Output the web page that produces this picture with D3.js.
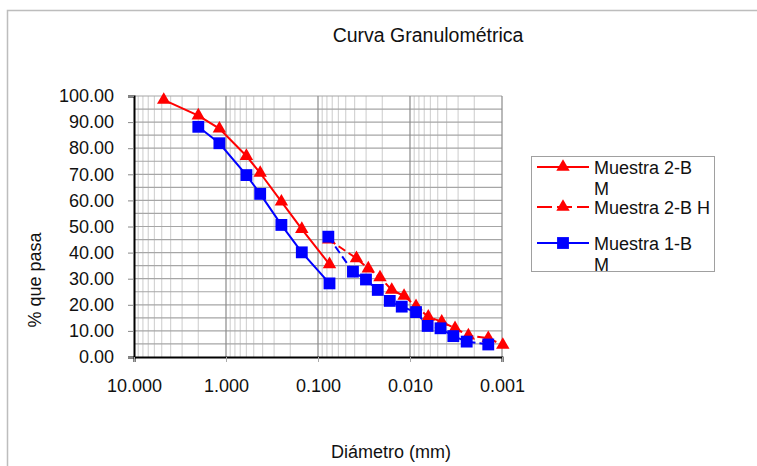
<!DOCTYPE html>
<html>
<head>
<meta charset="utf-8">
<script src="https://cdn.jsdelivr.net/npm/d3@7"></script>
<style>
  body { margin: 0; background: #fff; }
  svg { display: block; font-family: "Liberation Sans", Arial, sans-serif; }
</style>
</head>
<body>
<div id="chart"></div>
<script>
// sieve part, Muestra 2-B M
const m2Diam = [4.75, 2.0, 1.18, 0.6, 0.425, 0.25, 0.15, 0.075];
const m2Pasa = [98.5, 92.5, 87.5, 77.0, 70.5, 59.5, 49.0, 35.5];
// hydrometer part, Muestra 2-B H
const h2Diam = [0.0765, 0.0382, 0.0284, 0.0212, 0.0158, 0.0116, 0.0086, 0.00633, 0.00452, 0.00324, 0.00232, 0.00141, 0.00098];
const h2Pasa = [45.0, 37.8, 33.9, 30.5, 25.7, 23.4, 19.4, 15.4, 13.5, 11.0, 8.2, 7.2, 4.6];
// Muestra 1-B M
const m1Diam = [2.0, 1.18, 0.6, 0.425, 0.25, 0.15, 0.075];
const m1Pasa = [88.2, 81.9, 69.7, 62.5, 50.6, 40.1, 28.2];
// Muestra 1-B hydrometer (not in legend)
const h1Diam = [0.0772, 0.0417, 0.0301, 0.0224, 0.0166, 0.0123, 0.0086, 0.00643, 0.00466, 0.00338, 0.00242, 0.00141];
const h1Pasa = [46.1, 32.7, 29.7, 25.7, 21.5, 19.3, 17.2, 11.9, 11.0, 8.0, 5.9, 4.8];

const xTicks = [10, 1, 0.1, 0.01, 0.001];
const yTicks = [0, 10, 20, 30, 40, 50, 60, 70, 80, 90, 100];
const legendNames = [["Muestra 2-B", "M"], ["Muestra 2-B H"], ["Muestra 1-B", "M"]];

const width = 757, height = 466;
const svg = d3.select("#chart").append("svg").attr("width", width).attr("height", height);

// outer frame
svg.append("rect").attr("x", 7.5).attr("y", 10.5).attr("width", 800).attr("height", 500)
  .attr("fill", "none").attr("stroke", "#bdbdbd").attr("stroke-width", 1.5);

const x = d3.scaleLog().domain([10, 0.001]).range([134, 502]);
const y = d3.scaleLinear().domain([0, 100]).range([357, 96]);

// minor vertical grid
const minor = [];
[1, 0.1, 0.01, 0.001].forEach(d => { for (let k = 2; k <= 9; k++) minor.push(d * k); });
svg.append("g").selectAll("line").data(minor).enter().append("line")
  .attr("x1", d => x(d)).attr("x2", d => x(d)).attr("y1", y(0)).attr("y2", y(100))
  .attr("stroke", "#d4d4d4").attr("stroke-width", 1.2);

// horizontal grid every 5
svg.append("g").selectAll("line").data(d3.range(5, 101, 5)).enter().append("line")
  .attr("x1", x(10)).attr("x2", x(0.001)).attr("y1", d => y(d)).attr("y2", d => y(d))
  .attr("stroke", "#a6a6a6").attr("stroke-width", 1.2);

// major vertical grid
svg.append("g").selectAll("line").data([1, 0.1, 0.01, 0.001]).enter().append("line")
  .attr("x1", d => x(d)).attr("x2", d => x(d)).attr("y1", y(0)).attr("y2", y(100))
  .attr("stroke", "#8a8a8a").attr("stroke-width", 1.2);

// axes
const yAxis = svg.append("g").attr("transform", `translate(${x(10)},0)`)
  .call(d3.axisLeft(y).tickValues(yTicks).tickFormat(d3.format(".2f")).tickSize(6).tickPadding(14));
yAxis.select(".domain").attr("stroke", "#000").attr("stroke-width", 2);
yAxis.selectAll(".tick line").attr("stroke", "#888");
yAxis.selectAll("text").attr("font-size", 18).attr("fill", "#111")
  .attr("font-family", "Liberation Sans, Arial, sans-serif");

const xAxis = svg.append("g").attr("transform", `translate(0,${y(0)})`)
  .call(d3.axisBottom(x).tickValues(xTicks).tickFormat(d3.format(".3f")).tickSize(5).tickPadding(17));
xAxis.select(".domain").attr("stroke", "#000").attr("stroke-width", 2);
xAxis.selectAll(".tick line").attr("stroke", "#aaa");
xAxis.selectAll("text").attr("font-size", 18).attr("fill", "#111")
  .attr("font-family", "Liberation Sans, Arial, sans-serif");

// titles
svg.append("text").attr("x", 428).attr("y", 42).attr("text-anchor", "middle")
  .attr("font-size", 19.5).attr("fill", "#111").text("Curva Granulométrica");
svg.append("text").attr("x", 391).attr("y", 458).attr("text-anchor", "middle")
  .attr("font-size", 18).attr("fill", "#111").text("Diámetro (mm)");
svg.append("text").attr("transform", "translate(41,280) rotate(-90)").attr("text-anchor", "middle")
  .attr("font-size", 18).attr("fill", "#111").text("% que pasa");

const tri = d3.symbol().type(d3.symbolTriangle).size(78);
const sq = d3.symbol().type(d3.symbolSquare).size(140);
const line = d3.line().x(d => x(d[0])).y(d => y(d[1]));

function series(diam, pasa, color, dash, sym) {
  const pts = diam.map((d, i) => [d, pasa[i]]);
  const g = svg.append("g");
  g.append("path").attr("d", line(pts)).attr("fill", "none").attr("stroke", color)
    .attr("stroke-width", 2).attr("stroke-dasharray", dash);
  g.selectAll("path.m").data(pts).enter().append("path").attr("class", "m")
    .attr("d", sym).attr("fill", color)
    .attr("transform", d => `translate(${x(d[0])},${y(d[1])})`);
}

series(m2Diam, m2Pasa, "#ff0000", null, tri);
series(h2Diam, h2Pasa, "#ff0000", "8,4", tri);
series(m1Diam, m1Pasa, "#0000ff", null, sq);
series(h1Diam, h1Pasa, "#0000ff", "8,4", sq);

// legend
const lg = svg.append("g");
lg.append("rect").attr("x", 531.5).attr("y", 156.5).attr("width", 183).attr("height", 115)
  .attr("fill", "#fff").attr("stroke", "#a0a0a0").attr("stroke-width", 1);
const legItems = [
  {color: "#ff0000", dash: null, sym: tri, cy: 167},
  {color: "#ff0000", dash: "15,5", sym: tri, cy: 207},
  {color: "#0000ff", dash: null, sym: sq, cy: 243}
];
legItems.forEach((it, i) => {
  lg.append("line").attr("x1", 537).attr("x2", 589).attr("y1", it.cy).attr("y2", it.cy)
    .attr("stroke", it.color).attr("stroke-width", 2).attr("stroke-dasharray", it.dash);
  lg.append("path").attr("d", it.sym).attr("fill", it.color)
    .attr("transform", `translate(563,${it.cy})`);
  const t = lg.append("text").attr("x", 594).attr("y", it.cy + 6.5).attr("font-size", 18).attr("fill", "#111");
  legendNames[i].forEach((s, j) => t.append("tspan").attr("x", 594).attr("dy", j ? 21.5 : 0).text(s));
});
</script>
</body>
</html>
